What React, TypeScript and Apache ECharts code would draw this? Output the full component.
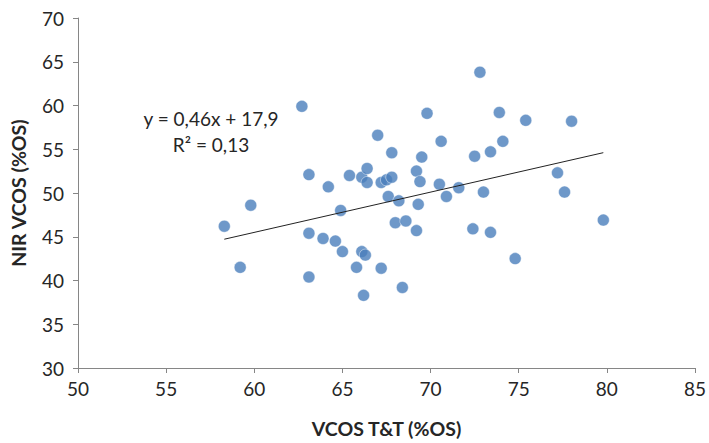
import React, { useEffect, useRef } from "react";
import * as echarts from "echarts";

const xTicks = [50, 55, 60, 65, 70, 75, 80, 85];
const yTicks = [30, 35, 40, 45, 50, 55, 60, 65, 70];

const vcosTT = [
  58.3, 59.2, 59.8, 62.7, 63.1, 63.1, 63.1, 63.9, 64.2, 64.6, 64.9, 65.0, 65.4, 65.8,
  66.1, 66.1, 66.2, 66.3, 66.4, 66.4, 67.0, 67.2, 67.2, 67.5, 67.6, 67.8, 67.8, 68.0,
  68.2, 68.4, 68.6, 69.2, 69.2, 69.3, 69.4, 69.5, 69.8, 70.5, 70.6, 70.9, 71.6, 72.4,
  72.5, 72.8, 73.0, 73.4, 73.4, 73.9, 74.1, 74.8, 75.4, 77.2, 77.6, 78.0, 79.8,
];
const nirVcos = [
  46.2, 41.5, 48.6, 59.9, 52.1, 45.4, 40.4, 44.8, 50.7, 44.5, 48.0, 43.3, 52.0, 41.5,
  51.8, 43.3, 38.3, 42.9, 52.8, 51.2, 56.6, 51.2, 41.4, 51.5, 49.6, 54.6, 51.8, 46.6,
  49.1, 39.2, 46.8, 52.5, 45.7, 48.7, 51.3, 54.1, 59.1, 51.0, 55.9, 49.6, 50.6, 45.9,
  54.2, 63.8, 50.1, 54.7, 45.5, 59.2, 55.9, 42.5, 58.3, 52.3, 50.1, 58.2, 46.9,
];

const slope = 0.46;
const intercept = 17.9;
const equationLines = ["y = 0,46x + 17,9", "R² = 0,13"];

const FONT = "Lato";

export default function App() {
  const ref = useRef<HTMLDivElement>(null);
  useEffect(() => {
    if (!ref.current) return;
    const chart = echarts.init(ref.current, null, { renderer: "svg" });
    const points = vcosTT.map((x, i) => [x, nirVcos[i]]);
    const xMin = Math.min(...vcosTT);
    const xMax = Math.max(...vcosTT);
    const trend = [
      [xMin, slope * xMin + intercept],
      [xMax, slope * xMax + intercept],
    ];
    const axisCommon = {
      axisLine: { show: true, lineStyle: { color: "#868686", width: 1 } },
      axisTick: { show: true, length: 5, lineStyle: { color: "#868686" } },
      splitLine: { show: false },
      axisLabel: { color: "#262626", fontFamily: FONT, fontSize: 19 },
      nameTextStyle: { color: "#262626", fontFamily: FONT, fontSize: 19.5, fontWeight: "bold" as const },
      nameLocation: "middle" as const,
    };
    chart.setOption({
      animation: false,
      backgroundColor: "#ffffff",
      grid: { left: 78, right: 12, top: 18, bottom: 72, containLabel: false },
      xAxis: {
        type: "value",
        min: xTicks[0],
        max: xTicks[xTicks.length - 1],
        interval: 5,
        name: "VCOS T&T (%OS)",
        nameGap: 50,
        ...axisCommon,
        axisLabel: { ...axisCommon.axisLabel, margin: 11 },
      },
      yAxis: {
        type: "value",
        min: yTicks[0],
        max: yTicks[yTicks.length - 1],
        interval: 5,
        name: "NIR VCOS (%OS)",
        nameGap: 50,
        ...axisCommon,
        axisLabel: { ...axisCommon.axisLabel, margin: 14 },
      },
      graphic: [
        {
          type: "text",
          x: 211,
          y: 105,
          style: {
            text: equationLines.join("\n"),
            fontFamily: FONT,
            fontSize: 19,
            lineHeight: 26,
            fill: "#262626",
            align: "center",
            verticalAlign: "top",
          },
        },
      ],
      series: [
        {
          type: "scatter",
          data: points,
          symbol: "circle",
          symbolSize: 12,
          itemStyle: { color: "#4A7EBB", borderColor: "rgba(255,255,255,0.7)", borderWidth: 0.8 },
          z: 2,
        },
        {
          type: "line",
          data: trend,
          symbol: "none",
          lineStyle: { color: "#222222", width: 1 },
          z: 3,
        },
      ],
    });
    return () => chart.dispose();
  }, []);
  return (
    <div
      ref={ref}
      style={{ position: "fixed", left: 0, top: 0, width: 709, height: 443, background: "#fff" }}
    />
  );
}
